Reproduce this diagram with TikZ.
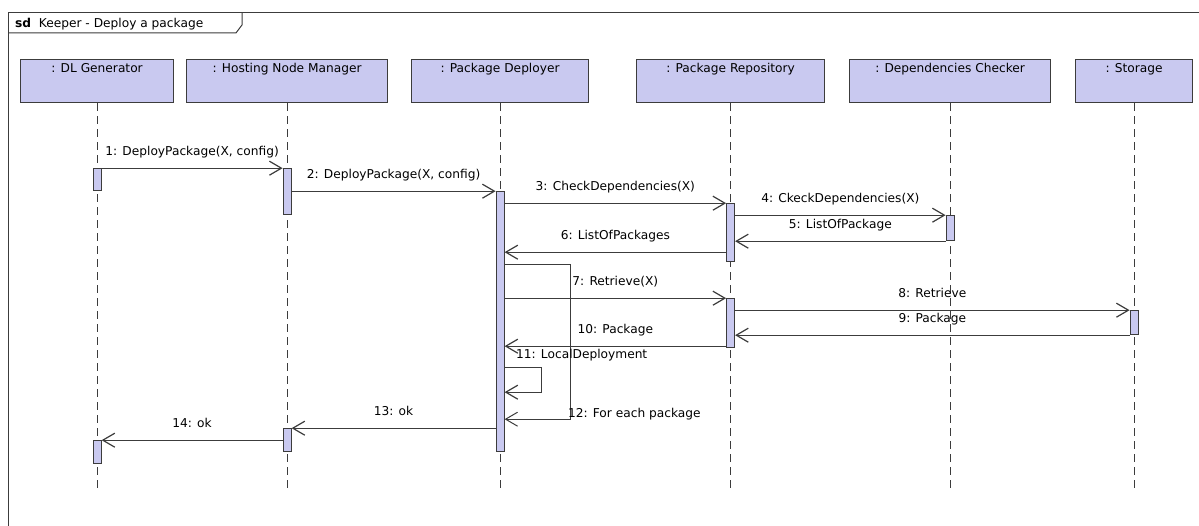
\documentclass[tikz,border=0pt]{standalone}
\usepackage{fontspec}
\setmainfont{DejaVu Sans}
\definecolor{lilac1}{RGB}{201, 201, 240}
\definecolor{gray1}{RGB}{60, 60, 60}
\usetikzlibrary{arrows.meta, positioning, calc}

\tikzset{
  objbox/.style={draw=gray1, fill=lilac1, line width=1.2pt, anchor=north west, minimum height=43pt, text height=9pt, text depth=26pt, inner ysep=4pt},
  actbar/.style={draw=gray1, fill=lilac1, line width=1pt, minimum width=8pt, inner sep=0pt},
  lifeline/.style={draw=gray1, line width=1pt, dash pattern=on 8pt off 5pt},
  msg/.style={draw=gray1, line width=1.2pt, -{Straight Barb[length=12pt, width=14pt]}},
  msglabel/.style={anchor=base, yshift=13pt, inner sep=0pt},
  frameline/.style={draw=gray1, line width=1pt}
}

\begin{document}
\begin{tikzpicture}[x=1pt, y=-1pt, font=\fontsize{12.2}{14}\selectfont]
  \useasboundingbox (0,0) rectangle (1199,526);
  \draw[frameline] (8,13) rectangle (1220,540);
  \draw[frameline] (8,33) -- (236,33) -- (242,25) -- (242,13);
  \node[anchor=base west, inner sep=0pt] (title) at (15,28) {\textbf{sd}\ \ Keeper - Deploy a package};

  \node[objbox, minimum width=153pt] (dlg) at (20,59) {: DL Generator};
  \node[objbox, minimum width=201pt] (hnm) at (186,59) {: Hosting Node Manager};
  \node[objbox, minimum width=177pt] (pd) at (411,59) {: Package Deployer};
  \node[objbox, minimum width=188pt] (pr) at (636,59) {: Package Repository};
  \node[objbox, minimum width=201pt] (dc) at (849,59) {: Dependencies Checker};
  \node[objbox, minimum width=117pt] (st) at (1075,59) {: Storage};

  \foreach \n in {dlg, hnm, pd, pr, dc, st}
    \draw[lifeline] (\n.south) -- ++(0,385);

  \node[actbar, minimum height=22pt, below=65pt of dlg.south] (dlgA1) {};
  \node[actbar, minimum height=23pt, below=337pt of dlg.south] (dlgA2) {};
  \node[actbar, minimum height=46pt, below=65pt of hnm.south] (hnmA1) {};
  \node[actbar, minimum height=23pt, below=325pt of hnm.south] (hnmA2) {};
  \node[actbar, minimum height=260pt, below=88pt of pd.south] (pdA) {};
  \node[actbar, minimum height=58pt, below=100pt of pr.south] (prA1) {};
  \node[actbar, minimum height=49pt, below=195pt of pr.south] (prA2) {};
  \node[actbar, minimum height=25pt, below=112pt of dc.south] (dcA) {};
  \node[actbar, minimum height=24pt, below=207pt of st.south] (stA) {};

  \draw[msg] (dlgA1.north east) -- node[msglabel] (m1) {1: DeployPackage(X, config)} (hnmA1.north west);
  \draw[msg] (hnmA1.east |- pdA.north) -- node[msglabel] (m2) {2: DeployPackage(X, config)} (pdA.north west);
  \draw[msg] (pdA.east |- prA1.north) -- node[msglabel] (m3) {3: CheckDependencies(X)} (prA1.north west);
  \draw[msg] (prA1.east |- dcA.north) -- node[msglabel] (m4) {4: CkeckDependencies(X)} (dcA.north west);
  \draw[msg] (dcA.south west) -- node[msglabel] (m5) {5: ListOfPackage} (prA1.east |- dcA.south);
  \coordinate[above=10pt of prA1.south west] (r6);
  \draw[msg] (r6) -- node[msglabel] (m6) {6: ListOfPackages} (pdA.east |- r6);

  \coordinate[below=73pt of pdA.north east] (s12);
  \draw[msg, line width=1pt] (s12) -- ++(66,0) -- ++(0,155)
    node[anchor=base west, xshift=-3pt, yshift=2pt, inner sep=0pt] (m12) {12: For each package} -- ++(-66,0);

  \draw[msg] (pdA.east |- prA2.north) -- node[msglabel] (m7) {7: Retrieve(X)} (prA2.north west);
  \draw[msg] (prA2.east |- stA.north) -- node[msglabel] (m8) {8: Retrieve} (stA.north west);
  \draw[msg] (stA.south west) -- node[msglabel] (m9) {9: Package} (prA2.east |- stA.south);
  \coordinate[above=2pt of prA2.south west] (r10);
  \draw[msg] (r10) -- node[msglabel] (m10) {10: Package} (pdA.east |- r10);

  \coordinate[below=176pt of pdA.north east] (s11);
  \draw[msg] (s11) node[anchor=base west, xshift=11pt, yshift=9pt, inner sep=0pt] (m11) {11: LocalDeployment}
    -- ++(37,0) -- ++(0,25) -- ++(-37,0);

  \draw[msg] (pdA.west |- hnmA2.north) -- node[msglabel] (m13) {13: ok} (hnmA2.north east);
  \draw[msg] (hnmA2.west |- dlgA2.north) -- node[msglabel] (m14) {14: ok} (dlgA2.north east);
\end{tikzpicture}
\end{document}
